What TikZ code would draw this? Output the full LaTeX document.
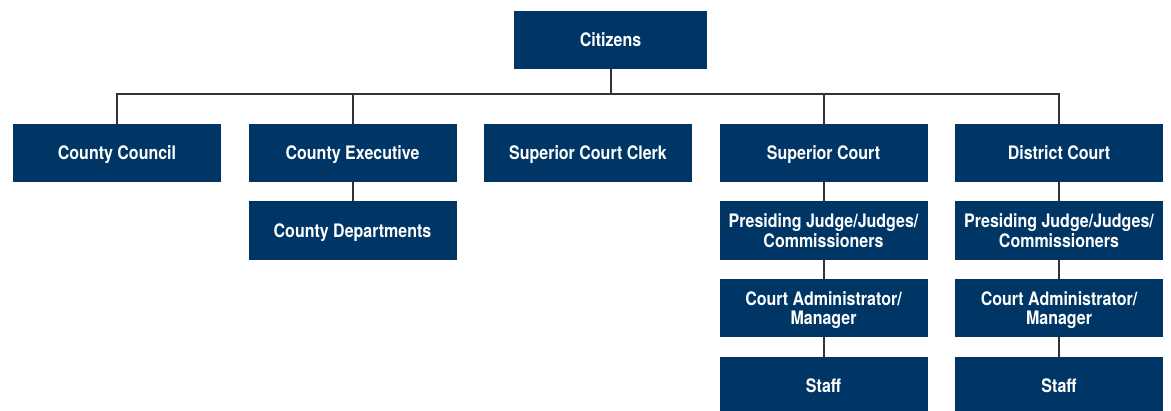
\documentclass[tikz,border=0pt]{standalone}
\usepackage{fontspec}
\setmainfont{TeX Gyre Heros}[FakeStretch=0.86]
\usetikzlibrary{positioning}
\definecolor{navy}{RGB}{0,54,102}
\definecolor{wire}{RGB}{50,50,50}
\tikzset{
    box/.style =    {rectangle,
                    fill=navy,
                    draw=none,
                    text=white,
                    font=\fontsize{9.3}{9.6}\selectfont\bfseries,
                    align=center,
                    inner sep=0pt,
                    outer sep=0pt,
                    execute at begin node={\vphantom{C}},
                    text depth=0pt,
                    minimum width=104pt,
                    minimum height=29pt},
    top/.style =    {box,
                    minimum width=96.5pt},
    link/.style =   {draw=wire,
                    line width=1pt},
    node distance=9.75pt and 13.75pt}

\begin{document}
\begin{tikzpicture}[x=0.5pt,y=-0.5pt]
    \useasboundingbox (0,0) rectangle (1171,411);
    \node[top]  (citizens)  at (610.5,40)           {Citizens};
    \node[box]  (council)   at (117,153)            {County Council};
    \node[box]  (exec)      [right=of council]      {County Executive};
    \node[box]  (clerk)     [right=of exec]         {Superior Court Clerk};
    \node[box]  (sup)       [right=of clerk]        {Superior Court};
    \node[box]  (dist)      [right=of sup]          {District Court};
    \node[box]  (depts)     [below=of exec]         {County Departments};
    \foreach \c in {sup,dist}{
        \node[box]  (\c judge)  [below=of \c]       {Presiding Judge/Judges/\\Commissioners};
        \node[box]  (\c admin)  [below=of \c judge] {Court Administrator/\\Manager};
        \node[box]  (\c staff)  [below=of \c admin] {Staff};
        \path[link] (\c) -- (\c judge) -- (\c admin) -- (\c staff);
    }
    % bus under citizens
    \coordinate (bus) at (0,94.5);
    \path[link] (council.north) -- (council.north |- bus) -- (dist.north |- bus) -- (dist.north);
    \path[link] (citizens.south) -- (citizens.south |- bus);
    \path[link] (exec.north) -- (exec.north |- bus);
    \path[link] (sup.north) -- (sup.north |- bus);
    \path[link] (exec) -- (depts);
\end{tikzpicture}
\end{document}
